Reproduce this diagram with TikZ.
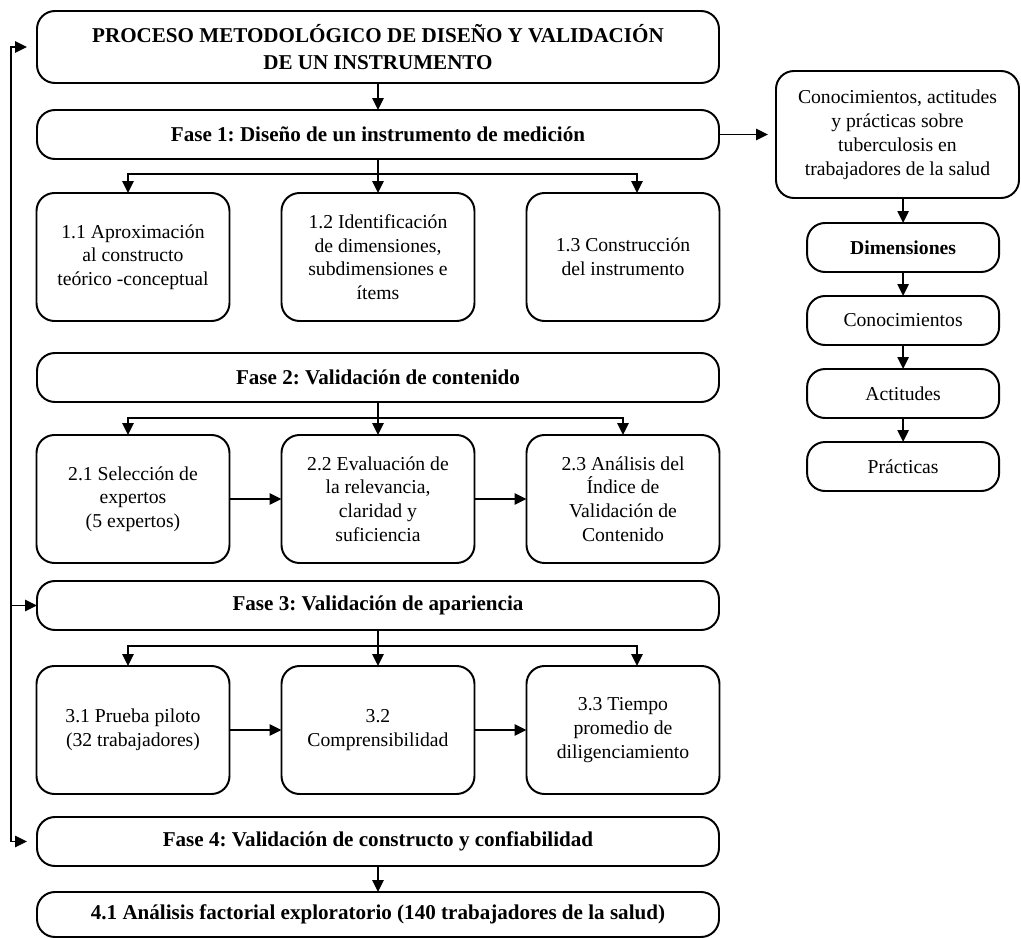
\documentclass[tikz,border=0pt]{standalone}
\usepackage{fontspec}
\setmainfont{Liberation Serif}
\frenchspacing
\usetikzlibrary{positioning, arrows.meta, calc}
\tikzstyle{phasebox} =[draw, rounded corners=0.45cm, line width=1.4pt, outer sep=0pt, inner sep=0pt, minimum width=17.05cm, minimum height=1.225cm, align=center, font=\fontsize{15pt}{18pt}\selectfont\bfseries]
\tikzstyle{stepbox} =[draw, rounded corners=0.45cm, line width=1.4pt, outer sep=0pt, inner sep=0pt, minimum width=4.825cm, minimum height=3.2cm, align=center, font=\fontsize{14pt}{16.8pt}\selectfont]
\tikzstyle{dimbox} =[draw, rounded corners=0.45cm, line width=1.4pt, outer sep=0pt, inner sep=0pt, minimum width=4.8cm, minimum height=1.225cm, align=center, font=\fontsize{14pt}{17pt}\selectfont]
\tikzstyle{arr} =[-{Triangle[length=8.5pt, width=8pt]}, line width=1.2pt, black]

\begin{document}
\begin{tikzpicture}
\useasboundingbox (-9.45cm,1.175cm) rectangle (16.075cm,-22.275cm);

\node (title) [phasebox, minimum height=1.8cm] at (0,0) {PROCESO METODOLÓGICO DE DISEÑO Y VALIDACIÓN\\[1.5pt]DE UN INSTRUMENTO};
\node (fase1) [phasebox, below=0.675cm of title] {Fase 1: Diseño de un instrumento de medición};

\node (paso12) [stepbox, below=0.85cm of fase1] {1.2 Identificación\\de dimensiones,\\subdimensiones e\\ítems};
\node (paso11) [stepbox, left=1.3cm of paso12] {1.1 Aproximación\\al constructo\\teórico -conceptual};
\node (paso13) [stepbox, right=1.3cm of paso12] {1.3 Construcción\\del instrumento};

\node (fase2) [phasebox, below=0.8cm of paso12] {Fase 2: Validación de contenido};

\node (paso22) [stepbox, below=0.825cm of fase2] {2.2 Evaluación de\\la relevancia,\\claridad y\\suficiencia};
\node (paso21) [stepbox, left=1.3cm of paso22] {2.1 Selección de\\expertos\\(5 expertos)};
\node (paso23) [stepbox, right=1.3cm of paso22] {2.3 Análisis del\\Índice de\\Validación de\\Contenido};

\node (fase3) [phasebox, below=0.45cm of paso22] {Fase 3: Validación de apariencia};

\node (paso32) [stepbox, below=0.9cm of fase3] {3.2\\Comprensibilidad};
\node (paso31) [stepbox, left=1.3cm of paso32] {3.1 Prueba piloto\\(32 trabajadores)};
\node (paso33) [stepbox, right=1.3cm of paso32] {3.3 Tiempo\\promedio de\\diligenciamiento};

\node (fase4) [phasebox, below=0.575cm of paso32] {Fase 4: Validación de constructo y confiabilidad};
\node (paso41) [phasebox, minimum height=1.125cm, below=0.65cm of fase4] {4.1 Análisis factorial exploratorio (140 trabajadores de la salud)};

% right column
\node (cap) [dimbox, minimum width=6.075cm, minimum height=3.175cm, right=1.425cm of fase1] {Conocimientos, actitudes\\y prácticas sobre\\tuberculosis en\\trabajadores de la salud};
\node (dims) [dimbox, below=0.625cm of cap, xshift=0.14cm] {\textbf{Dimensiones}};
\node (conoc) [dimbox, below=0.6cm of dims] {Conocimientos};
\node (actit) [dimbox, below=0.6cm of conoc] {Actitudes};
\node (pract) [dimbox, below=0.6cm of actit] {Prácticas};

% left return line
\coordinate (rail) at ($(title.west)+(-0.65cm,0)$);
\draw[arr, shorten >=0.25cm] (rail |- fase4) -- (rail) -- (title.west);
\draw[arr, shorten >=0.25cm] (rail) -- (rail |- fase4) -- (fase4.west);
\draw[arr] (rail |- fase3) -- (fase3.west);

% phase 1
\draw[arr] (title) -- (fase1);
\draw[arr] (fase1) -- (paso12);
\coordinate (split1) at ($(fase1.south)+(0,-0.375cm)$);
\draw[arr] (split1) -| ($(paso11.north)+(-0.125cm,0)$);
\draw[arr] (split1) -| ($(paso13.north)+(0.35cm,0)$);
\draw[arr, shorten >=0.2cm] (fase1) -- (fase1 -| cap.west);

% phase 2
\draw[arr] (fase2) -- (paso22);
\coordinate (split2) at ($(fase2.south)+(0,-0.4cm)$);
\draw[arr] (split2) -| ($(paso21.north)+(-0.125cm,0)$);
\draw[arr] (split2) -| (paso23.north);
\draw[arr] (paso21) -- (paso22);
\draw[arr] (paso22) -- (paso23);

% phase 3
\draw[arr] (fase3) -- (paso32);
\coordinate (split3) at ($(fase3.south)+(0,-0.4cm)$);
\draw[arr] (split3) -| ($(paso31.north)+(-0.125cm,0)$);
\draw[arr] (split3) -| ($(paso33.north)+(0.35cm,0)$);
\draw[arr] (paso31) -- (paso32);
\draw[arr] (paso32) -- (paso33);

% phase 4
\draw[arr] (fase4) -- (paso41);

% dimensions
\draw[arr] (cap.south -| dims) -- (dims);
\draw[arr] (dims) -- (conoc);
\draw[arr] (conoc) -- (actit);
\draw[arr] (actit) -- (pract);

\end{tikzpicture}
\end{document}
